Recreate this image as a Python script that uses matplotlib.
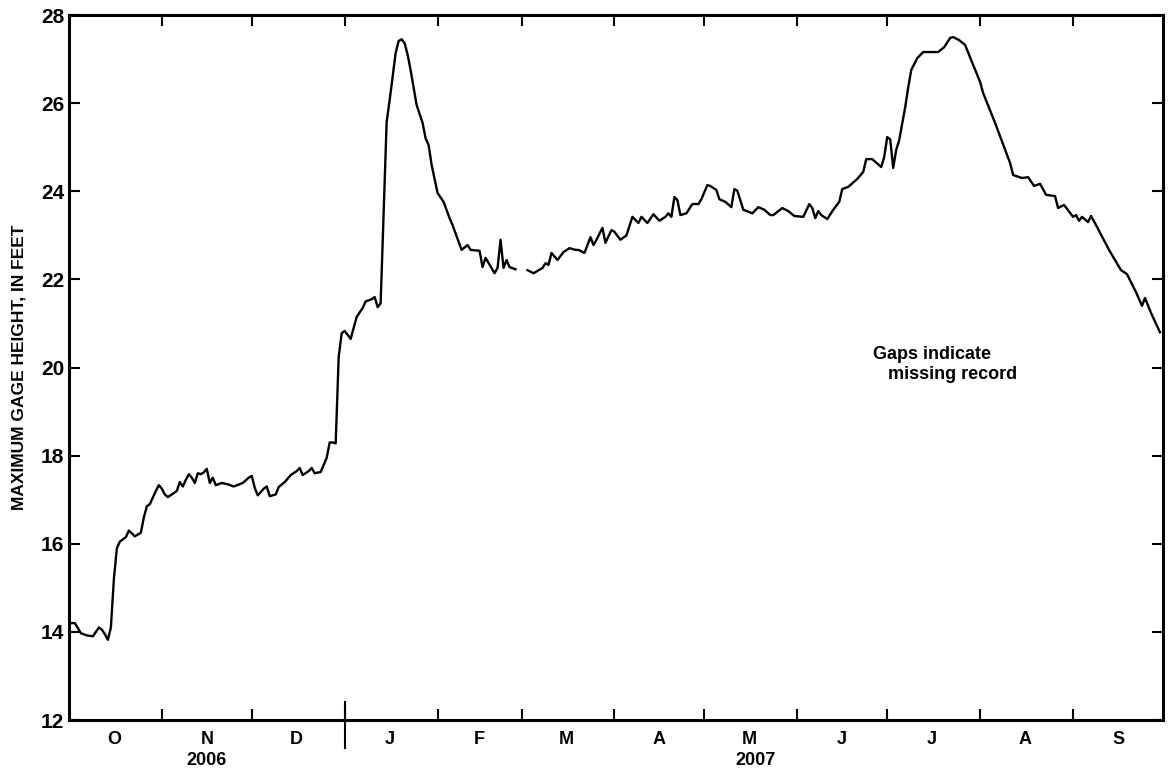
import matplotlib
matplotlib.use("Agg")
import matplotlib.pyplot as plt
import matplotlib.transforms as mtransforms
import numpy as np

plt.rcParams['font.family'] = ['Liberation Sans', 'DejaVu Sans']

# daily maximum gage height, water year 2007 (days after 2006-10-01, feet)
days_a = [0, 2, 4, 6, 8, 10, 11, 12, 13, 14, 15, 16, 17, 19, 20, 22, 24, 25, 26, 27,
          29, 30, 31, 32, 33, 35, 36, 37, 38, 39, 40, 41, 42, 43, 44, 45, 46, 47, 48, 49,
          51, 53, 55, 58, 60, 61, 62, 63, 65, 66, 67, 69, 70, 72, 74, 76, 77, 78, 80, 81,
          82, 84, 86, 87, 88, 89, 90, 91, 92, 94, 96, 98, 99, 101, 102, 103, 104, 106, 107, 108,
          109, 110, 111, 112, 113, 114, 116, 118, 119, 120, 121, 123, 125, 127, 128, 131, 133, 134, 137, 138,
          139, 142, 143, 144, 145, 146, 147, 149]
gage_a = [14.2, 14.2, 13.97, 13.92, 13.9, 14.1, 14.05, 13.95, 13.82, 14.1, 15.2, 15.9, 16.05, 16.15, 16.3, 16.17, 16.25, 16.6, 16.85, 16.9,
          17.2, 17.33, 17.25, 17.12, 17.06, 17.15, 17.2, 17.4, 17.3, 17.45, 17.58, 17.5, 17.38, 17.6, 17.58, 17.62, 17.7, 17.38, 17.5, 17.33,
          17.38, 17.35, 17.3, 17.38, 17.5, 17.54, 17.27, 17.1, 17.25, 17.3, 17.08, 17.12, 17.29, 17.4, 17.56, 17.65, 17.72, 17.56, 17.65, 17.72,
          17.6, 17.63, 17.95, 18.3, 18.3, 18.28, 20.24, 20.78, 20.83, 20.65, 21.15, 21.35, 21.5, 21.55, 21.6, 21.37, 21.46, 25.57, 26.07, 26.6,
          27.14, 27.41, 27.45, 27.36, 27.1, 26.75, 25.96, 25.55, 25.2, 25.05, 24.6, 23.96, 23.76, 23.39, 23.23, 22.67, 22.78, 22.67, 22.65, 22.28,
          22.49, 22.14, 22.26, 22.9, 22.26, 22.44, 22.28, 22.23]

days_b = [153, 155, 158, 159, 160, 161, 163, 165, 167, 169, 170, 172, 174, 175, 176, 178, 179, 181, 182, 184,
          186, 188, 190, 191, 193, 195, 197, 199, 200, 201, 202, 203, 204, 206, 208, 210, 211, 213, 214, 216,
          217, 219, 221, 222, 223, 225, 228, 230, 232, 234, 235, 238, 240, 242, 245, 247, 248, 249, 250, 251,
          253, 255, 257, 258, 260, 263, 265, 266, 268, 271, 272, 273, 274, 275, 276, 277, 279, 280, 281, 283,
          285, 288, 290, 292, 294, 295, 297, 299, 301, 304, 305, 309, 314, 315, 318, 320, 322, 324, 326, 329,
          330, 332, 335, 336, 337, 338, 340, 341, 343, 347, 351, 353, 356, 358, 359, 361, 364]
gage_b = [22.21, 22.14, 22.26, 22.37, 22.33, 22.6, 22.44, 22.62, 22.71, 22.67, 22.67, 22.6, 22.96, 22.78, 22.9, 23.17, 22.83, 23.12, 23.08, 22.9,
          23.0, 23.42, 23.28, 23.42, 23.28, 23.48, 23.33, 23.42, 23.5, 23.42, 23.87, 23.8, 23.46, 23.5, 23.71, 23.71, 23.82, 24.14, 24.12, 24.03,
          23.82, 23.76, 23.64, 24.05, 24.01, 23.58, 23.5, 23.64, 23.58, 23.46, 23.46, 23.62, 23.55, 23.44, 23.42, 23.71, 23.62, 23.39, 23.55, 23.46,
          23.37, 23.58, 23.76, 24.05, 24.1, 24.28, 24.44, 24.73, 24.73, 24.55, 24.78, 25.23, 25.18, 24.53, 24.94, 25.16, 25.91, 26.35, 26.75, 27.02,
          27.16, 27.16, 27.16, 27.27, 27.48, 27.5, 27.43, 27.32, 26.98, 26.48, 26.23, 25.55, 24.64, 24.37, 24.3, 24.32, 24.12, 24.17, 23.92, 23.89,
          23.62, 23.69, 23.42, 23.46, 23.33, 23.42, 23.3, 23.44, 23.19, 22.67, 22.21, 22.12, 21.71, 21.4, 21.58, 21.24, 20.8]

month_labels = ['O', 'N', 'D', 'J', 'F', 'M', 'A', 'M', 'J', 'J', 'A', 'S']
year_labels = ['2006', '2007']

start = np.datetime64('2006-10-01')
dates_a = start + np.array(days_a).astype('timedelta64[D]')
dates_b = start + np.array(days_b).astype('timedelta64[D]')

fig = plt.figure(figsize=(11.68, 7.79), dpi=100)
ax = fig.add_axes([0.059, 0.0757, 0.9367, 0.905])

ax.plot(dates_a, gage_a, color='black', lw=1.7)
ax.plot(dates_b, gage_b, color='black', lw=1.7)

ax.set_xlim(np.datetime64('2006-10-01'), np.datetime64('2007-10-01'))
ax.set_ylim(12, 28)

# month boundaries as ticks, month letters centred in each month
month_starts = np.arange(np.datetime64('2006-10'), np.datetime64('2007-11'), np.timedelta64(1, 'M')).astype('datetime64[D]')
mids = month_starts[:-1] + (month_starts[1:] - month_starts[:-1]) / 2
ax.set_xticks(month_starts[1:-1])
ax.set_xticklabels([])
ax.set_xticks(mids, minor=True)
ax.set_xticklabels(month_labels, minor=True, fontsize=13, fontweight='bold')
ax.tick_params(axis='x', which='minor', length=0, pad=8)
ax.tick_params(axis='x', which='major', direction='in', length=8, width=1.5, top=True)

ax.set_yticks(np.arange(12, 29, 2))
ax.tick_params(axis='y', direction='in', length=8, width=1.5, right=True, labelsize=15)
for lab in ax.get_yticklabels():
    lab.set_fontweight('bold')

for s in ax.spines.values():
    s.set_linewidth(2.2)

# year separator at Jan 1 and year labels
trans = mtransforms.blended_transform_factory(ax.transData, ax.transAxes)
jan1 = np.datetime64('2007-01-01')
ax.plot([jan1, jan1], [-0.04, 0.025], transform=trans, color='black', lw=1.5, clip_on=False)
ax.text(np.datetime64('2006-11-16'), -0.046, year_labels[0], transform=trans,
        ha='center', va='top', fontsize=13, fontweight='bold')
ax.text(np.datetime64('2007-05-18'), -0.046, year_labels[1], transform=trans,
        ha='center', va='top', fontsize=13, fontweight='bold')

ax.set_ylabel('MAXIMUM GAGE HEIGHT, IN FEET', fontsize=12.5, fontweight='bold', labelpad=10)

ax.text(0.735, 0.53, 'Gaps indicate\n   missing record', transform=ax.transAxes,
        ha='left', va='top', fontsize=13, fontweight='bold', linespacing=1.2)

fig.savefig('out.png', dpi=100)
